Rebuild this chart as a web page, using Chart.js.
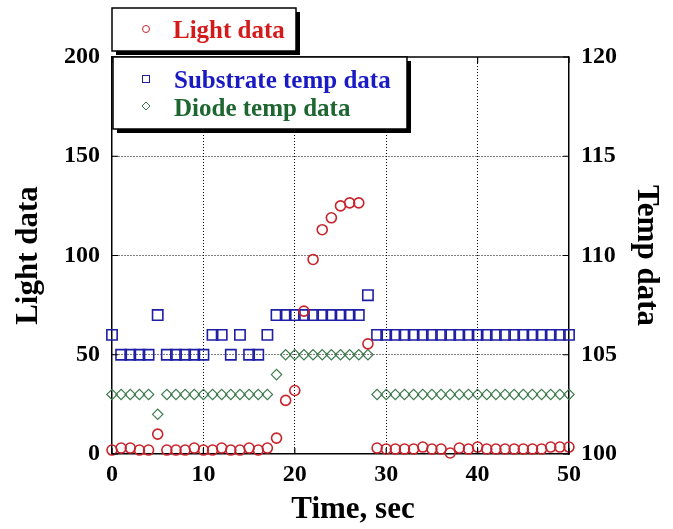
<!DOCTYPE html>
<html>
<head>
<meta charset="utf-8">
<script src="https://cdn.jsdelivr.net/npm/chart.js@4.4.0/dist/chart.umd.min.js"></script>
<style>
  html, body { margin: 0; padding: 0; background: #fff; }
  #wrap { width: 673px; height: 529px; position: relative; }
</style>
</head>
<body>
<div id="wrap"><canvas id="my-chart" width="673" height="529"></canvas></div>
<script>
'use strict';

// ******* DATA *********
let timeSec = [0, 1, 2, 3, 4, 5, 6, 7, 8, 9, 10, 11, 12, 13, 14, 15, 16, 17, 18, 19, 20,
  21, 22, 23, 24, 25, 26, 27, 28, 29, 30, 31, 32, 33, 34, 35, 36, 37, 38, 39, 40,
  41, 42, 43, 44, 45, 46, 47, 48, 49, 50];

let lightData = [2, 3, 3, 2, 2, 10, 2, 2, 2, 3, 2, 2, 3, 2, 2, 3, 2, 3, 8, 27, 32,
  72, 98, 113, 119, 125, 126.5, 126.5, 55.5, 3, 2.5, 2.5, 2.5, 2.5, 3.5, 2.5, 2.5, 0.5, 3, 2.5, 3.5,
  2.5, 2.5, 2.5, 2.5, 2.5, 2.5, 2.5, 3.5, 3.5, 3.5];

let substrateTemp = [106, 105, 105, 105, 105, 107, 105, 105, 105, 105, 105, 106, 106, 105, 106, 105, 105, 106, 107, 107, 107,
  107, 107, 107, 107, 107, 107, 107, 108, 106, 106, 106, 106, 106, 106, 106, 106, 106, 106, 106, 106,
  106, 106, 106, 106, 106, 106, 106, 106, 106, 106];

let diodeTemp = [103, 103, 103, 103, 103, 102, 103, 103, 103, 103, 103, 103, 103, 103, 103, 103, 103, 103, 104, 105, 105,
  105, 105, 105, 105, 105, 105, 105, 105, 103, 103, 103, 103, 103, 103, 103, 103, 103, 103, 103, 103,
  103, 103, 103, 103, 103, 103, 103, 103, 103, 103];

let xTicks = [0, 10, 20, 30, 40, 50];
let lightTicks = [0, 50, 100, 150, 200];
let tempTicks = [100, 105, 110, 115, 120];

// ******* STYLE *********
let serif = '"Liberation Serif", "Times New Roman", serif';
let red = '#c8232b';
let blue = '#1f1fa6';
let green = '#3d7a4c';

function toPoints(ys) {
  let pts = [];
  for (let i = 0; i < timeSec.length; i++) {
    pts.push({ x: timeSec[i], y: ys[i] });
  }
  return pts;
}

function gridColor(ticks) {
  return function (c) {
    let v = c.tick && c.tick.value;
    return (v === ticks[0] || v === ticks[ticks.length - 1]) ? 'rgba(0,0,0,0)' : '#000';
  };
}

// ***** PLUGIN: frame, inward ticks, x title, legend boxes *****
let extras = {
  id: 'extras',
  afterDraw(chart) {
    let c = chart.ctx;
    let a = chart.chartArea;
    let sx = chart.scales.x, sy = chart.scales.y, sy2 = chart.scales.y2;
    c.save();
    c.strokeStyle = '#000';
    c.lineWidth = 1.5;
    c.beginPath();
    c.moveTo(a.left, a.top);
    c.lineTo(a.right, a.top);
    c.stroke();

    c.lineWidth = 1.2;
    c.beginPath();
    xTicks.forEach(v => {
      let px = sx.getPixelForValue(v);
      c.moveTo(px, a.bottom); c.lineTo(px, a.bottom - 6);
      c.moveTo(px, a.top); c.lineTo(px, a.top + 6);
    });
    lightTicks.forEach(v => {
      let py = sy.getPixelForValue(v);
      c.moveTo(a.left, py); c.lineTo(a.left + 6, py);
    });
    tempTicks.forEach(v => {
      let py = sy2.getPixelForValue(v);
      c.moveTo(a.right, py); c.lineTo(a.right - 6, py);
    });
    c.stroke();

    // x axis title (sits a little right of centre in the original)
    c.fillStyle = '#000';
    c.font = 'bold 31px ' + serif;
    c.textAlign = 'center';
    c.textBaseline = 'alphabetic';
    c.fillText('Time, sec', 353, 518);

    // legend boxes with shadow
    function box(x, y, w, h) {
      c.fillStyle = '#000';
      c.fillRect(x + 4, y + 4, w, h);
      c.fillStyle = '#fff';
      c.fillRect(x, y, w, h);
      c.lineWidth = 1.5;
      c.strokeStyle = '#000';
      c.strokeRect(x, y, w, h);
    }
    box(112, 8, 184, 43);
    box(113, 57, 294, 72);

    c.font = 'bold 25px ' + serif;
    c.textAlign = 'left';

    c.lineWidth = 1;
    c.strokeStyle = red;
    c.beginPath(); c.arc(146, 29, 3.5, 0, Math.PI * 2); c.stroke();
    c.fillStyle = '#d41a1a';
    c.fillText('Light data', 173, 38);

    c.strokeStyle = blue;
    c.strokeRect(142.5, 75.5, 7, 7);
    c.fillStyle = '#1a1ac4';
    c.fillText('Substrate temp data', 174, 88);

    c.strokeStyle = green;
    c.beginPath();
    c.moveTo(146, 102); c.lineTo(150, 106); c.lineTo(146, 110); c.lineTo(142, 106); c.closePath();
    c.stroke();
    c.fillStyle = '#1d6630';
    c.fillText('Diode temp data', 174, 116);
    c.restore();
  }
};

// ***** CHART *****
let ctx = document.getElementById('my-chart');

let chartObj = {
  type: 'scatter',
  data: {
    datasets: [{
      label: 'Light data',
      data: toPoints(lightData),
      yAxisID: 'y',
      pointStyle: 'circle',
      pointRadius: 5,
      borderColor: red,
      backgroundColor: 'rgba(0,0,0,0)',
      borderWidth: 1.6,
      clip: false
    },
    {
      label: 'Substrate temp data',
      data: toPoints(substrateTemp),
      yAxisID: 'y2',
      pointStyle: 'rect',
      pointRadius: 7.3,
      borderColor: blue,
      backgroundColor: 'rgba(0,0,0,0)',
      borderWidth: 1.6,
      clip: false
    },
    {
      label: 'Diode temp data',
      data: toPoints(diodeTemp),
      yAxisID: 'y2',
      pointStyle: 'rectRot',
      pointRadius: 5.2,
      borderColor: green,
      backgroundColor: 'rgba(0,0,0,0)',
      borderWidth: 1.2,
      clip: false
    }]
  },
  options: {
    responsive: false,
    animation: false,
    layout: { padding: { top: 57, left: 0, right: 0, bottom: 0 } },
    plugins: {
      legend: { display: false },
      tooltip: { enabled: false }
    },
    scales: {
      x: {
        type: 'linear',
        min: 0,
        max: 50,
        afterFit: s => { s.height = 75; },
        afterBuildTicks: s => { s.ticks = xTicks.map(v => ({ value: v })); },
        ticks: { color: '#000', padding: 6, font: { family: serif, weight: 'bold', size: 24 } },
        grid: { color: gridColor(xTicks), lineWidth: 1, drawTicks: false },
        border: { display: true, color: '#000', width: 1.5, dash: [1, 2] },
        title: { display: false }
      },
      y: {
        position: 'left',
        min: 0,
        max: 200,
        afterFit: s => { s.width = 112; },
        afterBuildTicks: s => { s.ticks = lightTicks.map(v => ({ value: v })); },
        ticks: { color: '#000', padding: 12, font: { family: serif, weight: 'bold', size: 24 } },
        grid: { color: gridColor(lightTicks), lineWidth: 1, drawTicks: false },
        border: { display: true, color: '#000', width: 1.5, dash: [1, 2] },
        title: { display: true, text: 'Light data', color: '#000', padding: { top: 10, bottom: 0 },
          font: { family: serif, weight: 'bold', size: 31 } }
      },
      y2: {
        position: 'right',
        min: 100,
        max: 120,
        afterFit: s => { s.width = 104; },
        afterBuildTicks: s => { s.ticks = tempTicks.map(v => ({ value: v })); },
        ticks: { color: '#000', padding: 12, font: { family: serif, weight: 'bold', size: 24 } },
        grid: { drawOnChartArea: false, drawTicks: false },
        border: { display: true, color: '#000', width: 1.5 },
        title: { display: true, text: 'Temp data', color: '#000', padding: { top: 8, bottom: 0 },
          font: { family: serif, weight: 'bold', size: 31 } }
      }
    }
  },
  plugins: [extras]
};

new Chart(ctx, chartObj); //eslint-disable-line
</script>
</body>
</html>
